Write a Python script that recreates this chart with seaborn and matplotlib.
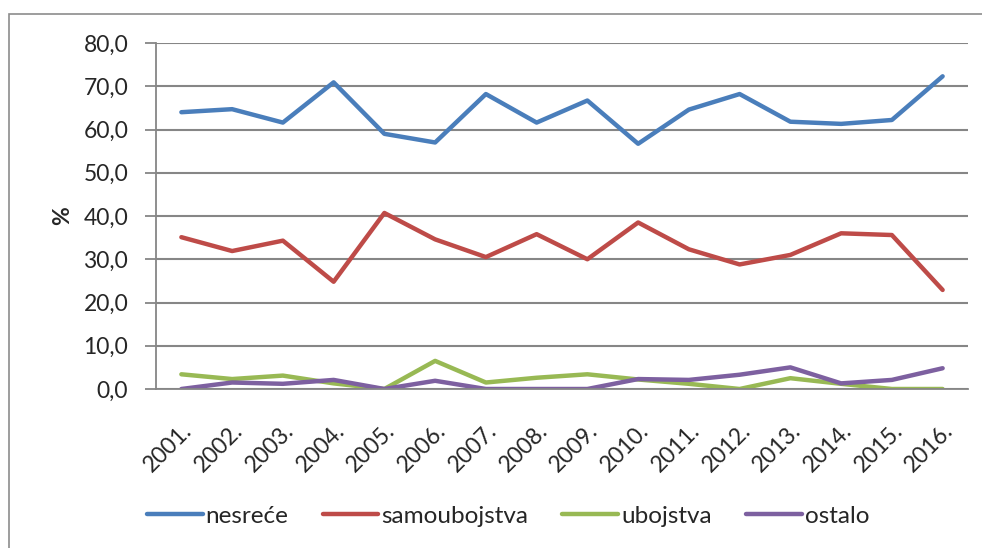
import pandas as pd
import seaborn as sns
import matplotlib.pyplot as plt
from matplotlib.patches import Rectangle

years = ["2001.", "2002.", "2003.", "2004.", "2005.", "2006.", "2007.", "2008.",
         "2009.", "2010.", "2011.", "2012.", "2013.", "2014.", "2015.", "2016."]
nesrece = [64.0, 64.7, 61.6, 70.9, 59.0, 57.0, 68.2, 61.6,
           66.7, 56.7, 64.6, 68.2, 61.8, 61.3, 62.2, 72.3]
samoubojstva = [35.1, 31.9, 34.3, 24.8, 40.7, 34.6, 30.5, 35.8,
                30.0, 38.5, 32.3, 28.8, 31.0, 36.0, 35.6, 22.9]
ubojstva = [3.4, 2.3, 3.1, 1.3, 0.0, 6.5, 1.5, 2.6,
            3.4, 2.2, 1.2, 0.0, 2.5, 1.2, 0.0, 0.0]
ostalo = [0.0, 1.5, 1.2, 2.1, 0.0, 1.9, 0.0, 0.0,
          0.0, 2.3, 2.1, 3.3, 5.0, 1.3, 2.1, 4.8]

series = {"nesreće": nesrece, "samoubojstva": samoubojstva,
          "ubojstva": ubojstva, "ostalo": ostalo}
colors = ["#4A7EBB", "#BE4B48", "#98B954", "#7D60A0"]

rows = []
for name, vals in series.items():
    for i, v in enumerate(vals):
        rows.append({"x": i, "year": years[i], "serija": name, "value": v})
df = pd.DataFrame(rows)

sns.set_style("white")
plt.rcParams["font.family"] = ["Lato", "DejaVu Sans"]

fig = plt.figure(figsize=(9.82, 5.48), dpi=100)
ax = fig.add_axes([156 / 982, 1 - 389 / 548, 812 / 982, 346 / 548])

# chart area border (Excel style)
fig.patches.append(Rectangle((9 / 982, -0.1), 1.2, 1 - 14 / 548 + 0.1,
                             transform=fig.transFigure, fill=False,
                             edgecolor="#8c8c8c", linewidth=1.2))

sns.lineplot(data=df, x="x", y="value", hue="serija", palette=colors,
             linewidth=3.2, ax=ax, legend=True, solid_capstyle="round")

ax.set_xlim(-0.5, 15.5)
ax.set_ylim(0, 80)
ax.set_yticks(range(0, 81, 10))
ax.set_yticklabels([f"{v},0" for v in range(0, 81, 10)], fontsize=16.5)
ax.set_xticks(range(16))
ax.set_xticklabels(years, fontsize=16.5, rotation=45, ha="right", va="top",
                   rotation_mode="anchor")
ax.set_xticks([i - 0.5 for i in range(17)], minor=True)
ax.tick_params(axis="x", which="major", length=0, pad=22)
ax.tick_params(axis="x", which="minor", length=8, color="#868686", width=1.3,
               direction="out")
ax.tick_params(axis="y", length=8, color="#868686", width=1.3, direction="out",
               pad=12, left=True)
ax.grid(axis="y", color="#868686", linewidth=1.5)
ax.grid(axis="x", visible=False)
for s in ["top", "right"]:
    ax.spines[s].set_visible(False)
for s in ["left", "bottom"]:
    ax.spines[s].set_color("#868686")
    ax.spines[s].set_linewidth(1.3)
ax.set_axisbelow(True)

ax.set_xlabel("")
ax.set_ylabel("%", fontsize=16.5, fontweight="bold", labelpad=7)

handles, labels = ax.get_legend_handles_labels()
ax.get_legend().remove()
fig.legend(handles, labels, loc="center", bbox_to_anchor=(508 / 982, 1 - 516 / 548),
           ncol=4, frameon=False, fontsize=17.5, handlelength=2.3,
           handletextpad=0.12, columnspacing=1.4)

fig.savefig("out.png", dpi=100)
